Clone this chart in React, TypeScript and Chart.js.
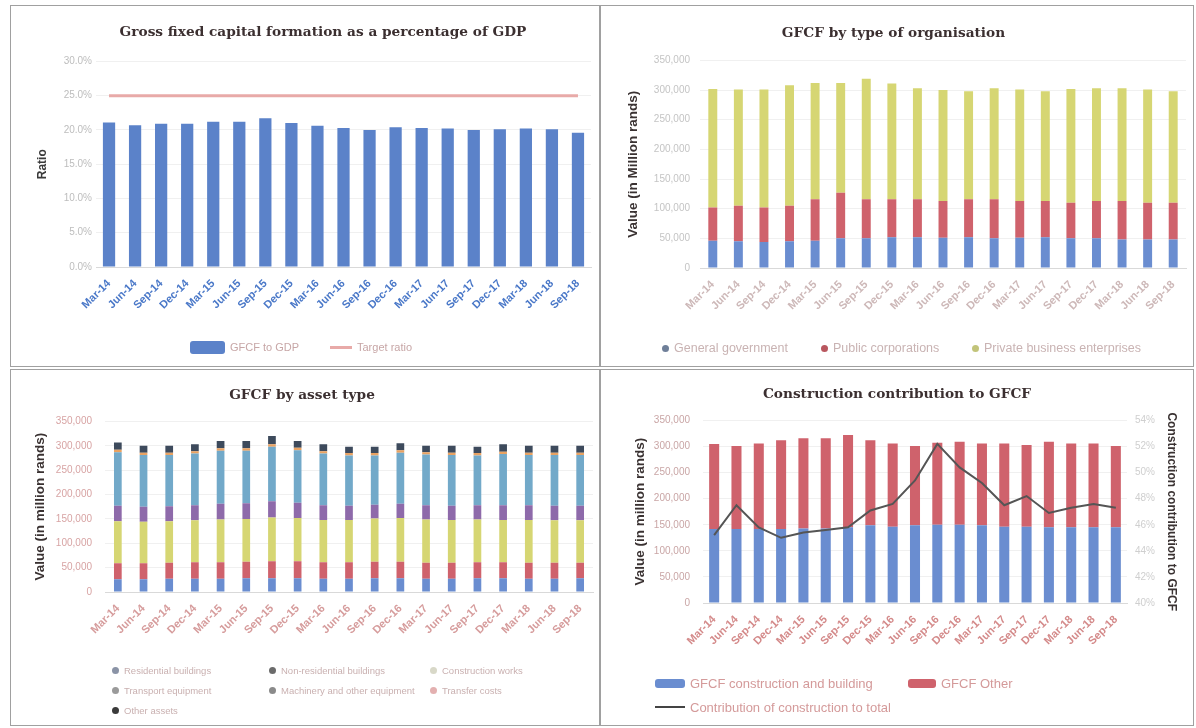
import React, { useEffect, useRef } from "react";
import { Chart, registerables } from "chart.js";

Chart.register(...registerables);

// Quarterly categories shared by all four charts
const quarters = [
  "Mar-14", "Jun-14", "Sep-14", "Dec-14", "Mar-15", "Jun-15", "Sep-15", "Dec-15",
  "Mar-16", "Jun-16", "Sep-16", "Dec-16", "Mar-17", "Jun-17", "Sep-17", "Dec-17",
  "Mar-18", "Jun-18", "Sep-18",
];

// GFCF as a percentage of GDP (%)
const gfcfToGdp = [21.1, 20.7, 20.9, 20.9, 21.2, 21.2, 21.7, 21.0, 20.6, 20.3, 20.0, 20.4, 20.3, 20.2, 20.0, 20.1, 20.2, 20.1, 19.6];
const targetRatio = [25, 25, 25, 25, 25, 25, 25, 25, 25, 25, 25, 25, 25, 25, 25, 25, 25, 25, 25];
const ratioAxis = { min: 0, max: 30, step: 5 };

// GFCF by type of organisation (million rands)
const generalGovernment = [46000, 45000, 44000, 45000, 46000, 50000, 50000, 52000, 52000, 51000, 52000, 50000, 51000, 52000, 50000, 50000, 48000, 48000, 48000];
const publicCorporations = [56000, 60000, 58000, 60000, 70000, 77000, 66000, 64000, 64000, 62000, 64000, 66000, 62000, 61000, 60000, 63000, 65000, 62000, 62000];
const privateBusiness = [200000, 196000, 199000, 203000, 196000, 185000, 203000, 195000, 187000, 187000, 182000, 187000, 188000, 185000, 192000, 190000, 190000, 191000, 188000];

// GFCF by asset type (million rands)
const residentialBuildings = [26000, 26000, 27000, 27000, 27000, 28000, 28000, 28000, 27000, 27000, 28000, 28000, 27000, 27000, 28000, 28000, 27000, 27000, 28000];
const nonResidentialBuildings = [33000, 33000, 33000, 34000, 34000, 34000, 35000, 35000, 34000, 34000, 34000, 34000, 33000, 33000, 33000, 33000, 33000, 33000, 32000];
const constructionWorks = [86000, 85000, 85000, 86000, 88000, 88000, 90000, 89000, 87000, 87000, 89000, 90000, 89000, 88000, 88000, 87000, 88000, 87000, 87000];
const transportEquipment = [32000, 31000, 31000, 31000, 32000, 32000, 33000, 31000, 30000, 29000, 28000, 29000, 29000, 29000, 29000, 30000, 30000, 30000, 30000];
const machineryEquipment = [110000, 106000, 105000, 106000, 109000, 108000, 112000, 108000, 106000, 103000, 101000, 105000, 104000, 104000, 102000, 105000, 103000, 104000, 104000];
const transferCosts = [5000, 5000, 5000, 5000, 5000, 5000, 5000, 5000, 5000, 5000, 5000, 5000, 5000, 5000, 5000, 5000, 5000, 5000, 5000];
const otherAssets = [15000, 14000, 14000, 14000, 15000, 15000, 17000, 14000, 14000, 13000, 13000, 14000, 13000, 14000, 13000, 15000, 14000, 14000, 14000];

// Construction contribution (million rands, and share in %)
const constructionBuilding = [142000, 142000, 142000, 142000, 143000, 143000, 145000, 149000, 146000, 149000, 150000, 150000, 149000, 146000, 146000, 145000, 145000, 145000, 145000];
const gfcfOther = [163000, 159000, 164000, 170000, 173000, 173000, 177000, 163000, 160000, 152000, 157000, 159000, 157000, 160000, 157000, 164000, 161000, 161000, 156000];
const constructionShare = [45.2, 47.5, 45.8, 45.0, 45.4, 45.6, 45.8, 47.1, 47.6, 49.4, 52.2, 50.4, 49.2, 47.5, 48.2, 46.9, 47.3, 47.6, 47.3];
const shareAxis = { min: 40, max: 54, step: 2 };
const valueAxis = { min: 0, max: 350000, step: 50000 };

const COLORS = {
  blue: "#5b82c9",
  blue2: "#6a8dd0",
  red: "#cf626c",
  yellow: "#d6d673",
  purple: "#8e6aaa",
  aqua: "#72a9c9",
  orange: "#e9a262",
  dark: "#3d4a5c",
  pink: "#e8aaa8",
  line: "#555555",
};

const TITLE_FONT = { family: "DejaVu Serif", size: 13.7, weight: "bold" as const };
const TICK_FONT = { family: "Liberation Sans", size: 10 };
const AXIS_TITLE_FONT = { family: "Liberation Sans", size: 12, weight: "bold" as const };
const VALUE_TITLE_FONT = { family: "Liberation Sans", size: 13.5, weight: "bold" as const };
const TITLE_COLOR = "#3b2f30";

const fmtThousands = (v: number | string) => Number(v).toLocaleString("en-US");

const fixWidth = (w: number) => (scale: any) => {
  scale.width = w;
};
const fixHeight = (h: number) => (scale: any) => {
  scale.height = h;
};

function xScale(color: string, height: number) {
  return {
    stacked: true,
    grid: { display: false },
    border: { color: "#d9d9d9" },
    ticks: {
      autoSkip: false,
      minRotation: 45,
      maxRotation: 45,
      padding: 2,
      color,
      font: { family: "Liberation Sans", size: 11, weight: "bold" as const },
    },
    afterFit: fixHeight(height),
  };
}

type Box = { left: number; top: number; width: number; height: number };

function ChartPanel({ box, config }: { box: Box; config: any }) {
  const ref = useRef<HTMLCanvasElement | null>(null);
  useEffect(() => {
    if (!ref.current) return;
    const chart = new Chart(ref.current, config);
    return () => chart.destroy();
  }, [config]);
  return (
    <div
      style={{
        position: "absolute",
        left: box.left,
        top: box.top,
        width: box.width,
        height: box.height,
        border: "1px solid #a0a0a0",
        boxSizing: "border-box",
        background: "#ffffff",
      }}
    >
      <canvas ref={ref} width={box.width - 2} height={box.height - 2} style={{ display: "block" }} />
    </div>
  );
}

type LegendItem = {
  x: number;
  y: number;
  text: string;
  color: string;
  kind: "rect" | "line" | "dot";
  w?: number;
  h?: number;
};

function HtmlLegend({ items, fontSize = 11, textColor = "#c7a6a6" }: { items: LegendItem[]; fontSize?: number; textColor?: string }) {
  return (
    <>
      {items.map((it, i) => {
        const w = it.kind === "dot" ? 7 : it.w ?? 30;
        const h = it.kind === "dot" ? 7 : it.h ?? 10;
        return (
          <div
            key={i}
            style={{
              position: "absolute",
              left: it.x,
              top: it.y - 8,
              height: 16,
              display: "flex",
              alignItems: "center",
              whiteSpace: "nowrap",
              fontFamily: "Liberation Sans",
              fontSize,
              color: textColor,
            }}
          >
            <span
              style={{
                display: "inline-block",
                width: w,
                height: h,
                background: it.color,
                borderRadius: it.kind === "dot" ? "50%" : it.kind === "rect" ? 3 : 0,
                marginRight: 5,
              }}
            />
            {it.text}
          </div>
        );
      })}
    </>
  );
}

const panel1Box: Box = { left: 10, top: 5, width: 590, height: 362 };
const panel2Box: Box = { left: 600, top: 5, width: 594, height: 362 };
const panel3Box: Box = { left: 10, top: 369, width: 590, height: 357 };
const panel4Box: Box = { left: 600, top: 369, width: 594, height: 357 };

const panel1Config = {
  data: {
    labels: quarters,
    datasets: [
      {
        type: "line" as const,
        label: "Target ratio",
        data: targetRatio,
        borderColor: COLORS.pink,
        backgroundColor: COLORS.pink,
        borderWidth: 3,
        pointRadius: 0,
        order: 0,
      },
      {
        type: "bar" as const,
        label: "GFCF to GDP",
        data: gfcfToGdp,
        backgroundColor: COLORS.blue,
        categoryPercentage: 1,
        barPercentage: 0.47,
        order: 1,
      },
    ],
  },
  options: {
    responsive: false,
    animation: false,
    // the left padding moves the full-width title right; the axis keeps its place
    layout: { padding: { left: 44, right: 8, top: 0, bottom: 35 } },
    plugins: {
      legend: { display: false },
      tooltip: { enabled: false },
      title: {
        display: true,
        text: "Gross fixed capital formation as a percentage of GDP",
        color: TITLE_COLOR,
        font: TITLE_FONT,
        padding: { top: 18, bottom: 21 },
      },
    },
    scales: {
      x: xScale("#4a78c8", 64),
      y: {
        min: ratioAxis.min,
        max: ratioAxis.max,
        ticks: {
          stepSize: ratioAxis.step,
          padding: 4,
          color: "#bdbdbd",
          font: TICK_FONT,
          callback: (v: any) => `${Number(v).toFixed(1)}%`,
        },
        grid: { color: "#f0f0f0", drawTicks: false },
        border: { display: false },
        title: { display: true, text: "Ratio", color: "#3a3a3a", font: AXIS_TITLE_FONT, padding: { top: -20, bottom: 0 } },
        afterFit: fixWidth(41),
      },
    },
  },
};

const panel2Config = {
  type: "bar" as const,
  data: {
    labels: quarters,
    datasets: [
      { label: "General government", data: generalGovernment, backgroundColor: COLORS.blue2 },
      { label: "Public corporations", data: publicCorporations, backgroundColor: COLORS.red },
      { label: "Private business enterprises", data: privateBusiness, backgroundColor: COLORS.yellow },
    ].map((d) => ({ ...d, categoryPercentage: 1, barPercentage: 0.35 })),
  },
  options: {
    responsive: false,
    animation: false,
    layout: { padding: { left: 0, right: 7, top: 0, bottom: 34 } },
    plugins: {
      legend: { display: false },
      tooltip: { enabled: false },
      title: {
        display: true,
        text: "GFCF by type of organisation",
        color: TITLE_COLOR,
        font: TITLE_FONT,
        padding: { top: 19, bottom: 19 },
      },
    },
    scales: {
      x: xScale("#cdb8b8", 64),
      y: {
        stacked: true,
        min: valueAxis.min,
        max: valueAxis.max,
        ticks: { stepSize: valueAxis.step, padding: 10, color: "#c4c4c4", font: TICK_FONT, callback: fmtThousands },
        grid: { color: "#f0f0f0", drawTicks: false },
        border: { display: false },
        title: {
          display: true,
          text: "Value (in Million rands)",
          color: "#3a3232",
          font: VALUE_TITLE_FONT,
          padding: { top: 24, bottom: 0 },
        },
        afterFit: fixWidth(99),
      },
    },
  },
};

const panel3Config = {
  type: "bar" as const,
  data: {
    labels: quarters,
    datasets: [
      { label: "Residential buildings", data: residentialBuildings, backgroundColor: COLORS.blue2 },
      { label: "Non-residential buildings", data: nonResidentialBuildings, backgroundColor: COLORS.red },
      { label: "Construction works", data: constructionWorks, backgroundColor: COLORS.yellow },
      { label: "Transport equipment", data: transportEquipment, backgroundColor: COLORS.purple },
      { label: "Machinery and other equipment", data: machineryEquipment, backgroundColor: COLORS.aqua },
      { label: "Transfer costs", data: transferCosts, backgroundColor: COLORS.orange },
      { label: "Other assets", data: otherAssets, backgroundColor: COLORS.dark },
    ].map((d) => ({ ...d, categoryPercentage: 1, barPercentage: 0.3 })),
  },
  options: {
    responsive: false,
    animation: false,
    layout: { padding: { left: 0, right: 6, top: 0, bottom: 73 } },
    plugins: {
      legend: { display: false },
      tooltip: { enabled: false },
      title: {
        display: true,
        text: "GFCF by asset type",
        color: TITLE_COLOR,
        font: TITLE_FONT,
        padding: { top: 17, bottom: 18 },
      },
    },
    scales: {
      x: xScale("#d69c9c", 60),
      y: {
        stacked: true,
        min: valueAxis.min,
        max: valueAxis.max,
        ticks: { stepSize: valueAxis.step, padding: 13, color: "#d7a3a3", font: TICK_FONT, callback: fmtThousands },
        grid: { color: "#f0f0f0", drawTicks: false },
        border: { display: false },
        title: {
          display: true,
          text: "Value (in million rands)",
          color: "#3a3232",
          font: VALUE_TITLE_FONT,
          padding: { top: 21, bottom: 0 },
        },
        afterFit: fixWidth(94),
      },
    },
  },
};

const panel4Config = {
  data: {
    labels: quarters,
    datasets: [
      {
        type: "line" as const,
        label: "Contribution of construction to total",
        data: constructionShare,
        yAxisID: "y1",
        borderColor: COLORS.line,
        borderWidth: 2,
        pointRadius: 0,
        order: 0,
      },
      {
        type: "bar" as const,
        label: "GFCF construction and building",
        data: constructionBuilding,
        backgroundColor: COLORS.blue2,
        categoryPercentage: 1,
        barPercentage: 0.45,
        order: 1,
      },
      {
        type: "bar" as const,
        label: "GFCF Other",
        data: gfcfOther,
        backgroundColor: COLORS.red,
        categoryPercentage: 1,
        barPercentage: 0.45,
        order: 1,
      },
    ],
  },
  options: {
    responsive: false,
    animation: false,
    layout: { padding: { left: 0, right: 0, top: 0, bottom: 62 } },
    plugins: {
      legend: { display: false },
      tooltip: { enabled: false },
      title: {
        display: true,
        text: "Construction contribution to GFCF",
        color: TITLE_COLOR,
        font: TITLE_FONT,
        padding: { top: 16, bottom: 18 },
      },
    },
    scales: {
      x: xScale("#d48a8a", 60),
      y: {
        stacked: true,
        min: valueAxis.min,
        max: valueAxis.max,
        ticks: { stepSize: valueAxis.step, padding: 13, color: "#c9a5a5", font: TICK_FONT, callback: fmtThousands },
        grid: { color: "#f0f0f0", drawTicks: false },
        border: { display: false },
        title: {
          display: true,
          text: "Value (in million rands)",
          color: "#3a3232",
          font: VALUE_TITLE_FONT,
          padding: { top: 31, bottom: 0 },
        },
        afterFit: fixWidth(102),
      },
      y1: {
        position: "right" as const,
        min: shareAxis.min,
        max: shareAxis.max,
        ticks: {
          stepSize: shareAxis.step,
          padding: 8,
          color: "#cfcfcf",
          font: TICK_FONT,
          callback: (v: any) => `${v}%`,
        },
        grid: { drawOnChartArea: false, drawTicks: false },
        border: { display: false },
        title: {
          display: true,
          text: "Construction contribution to GFCF",
          color: "#3a3232",
          font: AXIS_TITLE_FONT,
          padding: { top: 14, bottom: 0 },
        },
        afterFit: fixWidth(66),
      },
    },
  },
};

const legend1: LegendItem[] = [
  { x: 190, y: 347, text: "GFCF to GDP", color: COLORS.blue, kind: "rect", w: 35, h: 13 },
  { x: 330, y: 347, text: "Target ratio", color: COLORS.pink, kind: "line", w: 22, h: 3 },
];

const legend2: LegendItem[] = [
  { x: 662, y: 348, text: "General government", color: "#6f7f99", kind: "dot" },
  { x: 821, y: 348, text: "Public corporations", color: "#b9575f", kind: "dot" },
  { x: 972, y: 348, text: "Private business enterprises", color: "#c2c47a", kind: "dot" },
];

const legend3: LegendItem[] = [
  { x: 112, y: 670, text: "Residential buildings", color: "#8a93a6", kind: "dot" },
  { x: 269, y: 670, text: "Non-residential buildings", color: "#6b6b6b", kind: "dot" },
  { x: 430, y: 670, text: "Construction works", color: "#d8d8c8", kind: "dot" },
  { x: 112, y: 690, text: "Transport equipment", color: "#9a9a9a", kind: "dot" },
  { x: 269, y: 690, text: "Machinery and other equipment", color: "#8a8a8a", kind: "dot" },
  { x: 430, y: 690, text: "Transfer costs", color: "#e3b0b0", kind: "dot" },
  { x: 112, y: 710, text: "Other assets", color: "#3a3a3a", kind: "dot" },
];

const legend4: LegendItem[] = [
  { x: 655, y: 683, text: "GFCF construction and building", color: COLORS.blue2, kind: "rect", w: 30, h: 9 },
  { x: 908, y: 683, text: "GFCF Other", color: COLORS.red, kind: "rect", w: 28, h: 9 },
  { x: 655, y: 707, text: "Contribution of construction to total", color: "#444444", kind: "line", w: 30, h: 2 },
];

export default function App() {
  return (
    <div style={{ position: "absolute", left: 0, top: 0, width: 1196, height: 728, background: "#ffffff", overflow: "hidden" }}>
      <ChartPanel box={panel1Box} config={panel1Config} />
      <ChartPanel box={panel2Box} config={panel2Config} />
      <ChartPanel box={panel3Box} config={panel3Config} />
      <ChartPanel box={panel4Box} config={panel4Config} />
      <HtmlLegend items={legend1} />
      <HtmlLegend items={legend2} fontSize={12.5} textColor="#c9b3b3" />
      <HtmlLegend items={legend3} fontSize={9.5} textColor="#c9b0b0" />
      <HtmlLegend items={legend4} fontSize={13} textColor="#d49a9a" />
    </div>
  );
}
